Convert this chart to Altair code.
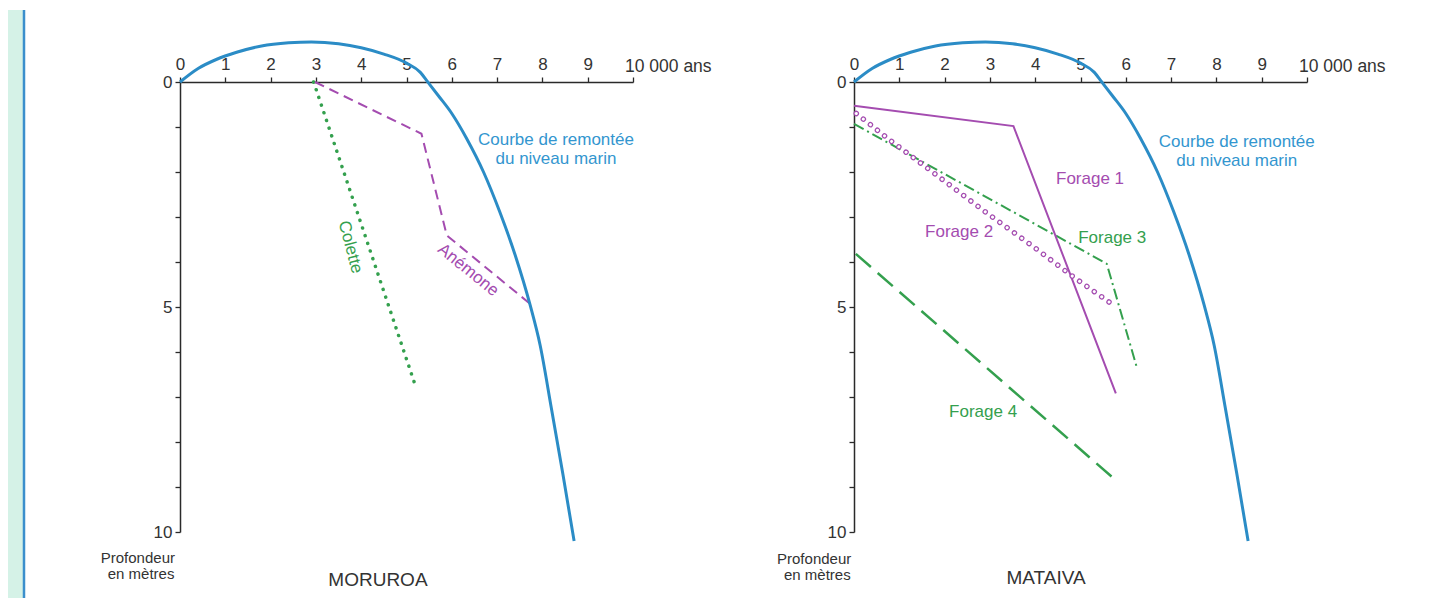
import altair as alt
import pandas as pd

FONT = "Liberation Sans"
BLUE = "#2b8cc6"
BLUE_TXT = "#3396cf"
PURPLE = "#a44cb0"
GREEN = "#34a04e"
AXIS = "#2a2a2a"

# Axis ticks (thousand years / metres)
x_ticks = list(range(11))
y_ticks = list(range(11))

# Sea level rise curve (age in thousand years, depth in metres; negative = above present)
sea_age = [0, 0.4, 0.8, 1.25, 1.8, 2.4, 2.9, 3.5, 4.0, 4.5, 5.0, 5.3, 5.47, 5.7, 6.0,
           6.33, 6.7, 7.06, 7.4, 7.73, 7.95, 8.2, 8.45, 8.7]
sea_depth = [0, -0.3, -0.5, -0.66, -0.8, -0.87, -0.89, -0.85, -0.76, -0.62, -0.42, -0.22,
             0, 0.3, 0.7, 1.26, 2.0, 2.89, 3.85, 4.96, 5.85, 7.26, 8.7, 10.2]

# MORUROA
anemone_age = [2.98, 5.33, 5.89, 7.73]
anemone_depth = [0, 1.15, 3.41, 4.93]
colette_age = [2.95, 5.22]
colette_depth = [0, 6.82]

# MATAIVA
f1_age = [0, 3.52, 5.78]
f1_depth = [0.53, 0.98, 6.92]
f2_age = [0.05, 0.79, 1.68, 2.89, 3.96, 4.84, 5.73]
f2_depth = [0.7, 1.29, 1.96, 2.88, 3.66, 4.33, 4.96]
f3_age = [0, 5.58, 6.24]
f3_depth = [0.93, 4.04, 6.33]
f4_age = [0.04, 5.7]
f4_depth = [3.82, 8.78]

# Annotations: (x, y, text, color, size, angle)
left_labels = [
    (8.3, 1.29, "Courbe de remontée", BLUE_TXT, 17, 0),
    (8.3, 1.70, "du niveau marin", BLUE_TXT, 17, 0),
    (3.76, 3.67, "Colette", GREEN, 17, 75),
    (6.36, 4.18, "Anémone", PURPLE, 17, 39),
    (4.37, 11.07, "MORUROA", "#333333", 19, 0),
    (-0.93, 10.58, "Profondeur", "#333333", 15, 0),
    (-0.86, 10.93, "en mètres", "#333333", 15, 0),
]
right_labels = [
    (8.45, 1.34, "Courbe de remontée", BLUE_TXT, 17, 0),
    (8.45, 1.75, "du niveau marin", BLUE_TXT, 17, 0),
    (5.21, 2.16, "Forage 1", PURPLE, 17, 0),
    (2.32, 3.33, "Forage 2", PURPLE, 17, 0),
    (5.70, 3.47, "Forage 3", GREEN, 17, 0),
    (2.85, 7.33, "Forage 4", GREEN, 17, 0),
    (4.24, 11.02, "MATAIVA", "#333333", 19, 0),
    (-0.88, 10.6, "Profondeur", "#333333", 15, 0),
    (-0.81, 10.95, "en mètres", "#333333", 15, 0),
]

x_scale = alt.Scale(domain=[0, 10])
y_scale = alt.Scale(domain=[0, 10], reverse=True)

x_axis = alt.Axis(orient="top", values=x_ticks, labelExpr="datum.value == 10 ? '' : datum.label",
                  tickSize=5, labelPadding=4, labelFontSize=17, labelFont=FONT, labelColor="#333333",
                  domainColor=AXIS, domainWidth=1.5, tickColor=AXIS, tickWidth=1.3, grid=False,
                  labelFlush=False, labelOverlap=False, title=None)
y_axis = alt.Axis(orient="left", values=y_ticks, labelExpr="datum.value % 5 == 0 ? datum.label : ''",
                  tickSize=5, labelPadding=3, labelFontSize=17, labelFont=FONT, labelColor="#333333",
                  domainColor=AXIS, domainWidth=1.5, tickColor=AXIS, tickWidth=1.3, grid=False,
                  labelOverlap=False, title=None)


def enc(chart):
    return chart.encode(
        x=alt.X("x:Q", scale=x_scale, axis=x_axis),
        y=alt.Y("y:Q", scale=y_scale, axis=y_axis),
    )


def line(ages, depths, **style):
    df = pd.DataFrame({"x": ages, "y": depths})
    return enc(alt.Chart(df).mark_line(**style))


def text(lbl):
    x, y, t, color, size, angle = lbl
    df = pd.DataFrame({"x": [x], "y": [y], "t": [t]})
    return enc(alt.Chart(df).mark_text(font=FONT, fontSize=size, color=color, angle=angle,
                                       align="center", baseline="middle")).encode(text="t:N")


one = pd.DataFrame({"a": [0]})


def unit_label():
    df = pd.DataFrame({"x": [10], "y": [0], "t": ["10 000 ans"]})
    return enc(alt.Chart(df).mark_text(font=FONT, fontSize=17.5, color="#333333", align="left",
                                       baseline="alphabetic", dx=-8, dy=-10)).encode(text="t:N")


# ---- left panel
left_layers = [
    alt.Chart(one).mark_rect(color="#d5f2e7").encode(
        x=alt.value(-172), x2=alt.value(-156), y=alt.value(-72), y2=alt.value(516)),
    alt.Chart(one).mark_rule(color="#3b8fcc", strokeWidth=2.5).encode(
        x=alt.value(-156), y=alt.value(-72), y2=alt.value(516)),
    alt.Chart(one).mark_rect(color="white").encode(
        x=alt.value(559), x2=alt.value(560), y=alt.value(-72), y2=alt.value(516)),
    line(colette_age, colette_depth, color=GREEN, strokeWidth=3.5, strokeDash=[0.1, 8], strokeCap="round"),
    line(anemone_age, anemone_depth, color=PURPLE, strokeWidth=2, strokeDash=[10, 6]),
    line(sea_age, sea_depth, color=BLUE, strokeWidth=3, interpolate="monotone"),
    unit_label(),
] + [text(l) for l in left_labels]

left = alt.layer(*left_layers).properties(width=453, height=450)

# ---- right panel
right_layers = [
    alt.Chart(one).mark_rect(color="white").encode(
        x=alt.value(-100), x2=alt.value(-99), y=alt.value(-72), y2=alt.value(516)),
    line(f4_age, f4_depth, color=GREEN, strokeWidth=2.5, strokeDash=[20, 9]),
    line(f3_age, f3_depth, color=GREEN, strokeWidth=2, strokeDash=[11, 4, 2, 4]),
    line(f1_age, f1_depth, color=PURPLE, strokeWidth=2),
    line(f2_age, f2_depth, color=PURPLE, strokeWidth=5.5, strokeDash=[0.01, 9], strokeCap="round"),
    line(f2_age, f2_depth, color="white", strokeWidth=3, strokeDash=[0.01, 9], strokeCap="round"),
    line(sea_age, sea_depth, color=BLUE, strokeWidth=3, interpolate="monotone"),
    unit_label(),
] + [text(l) for l in right_labels]

right = alt.layer(*right_layers).properties(width=453, height=450)

chart = alt.hconcat(left, right, spacing=14).properties(padding=0).configure_view(strokeWidth=0)

chart.save("out.html", embed_options={"renderer": "svg", "actions": False})
